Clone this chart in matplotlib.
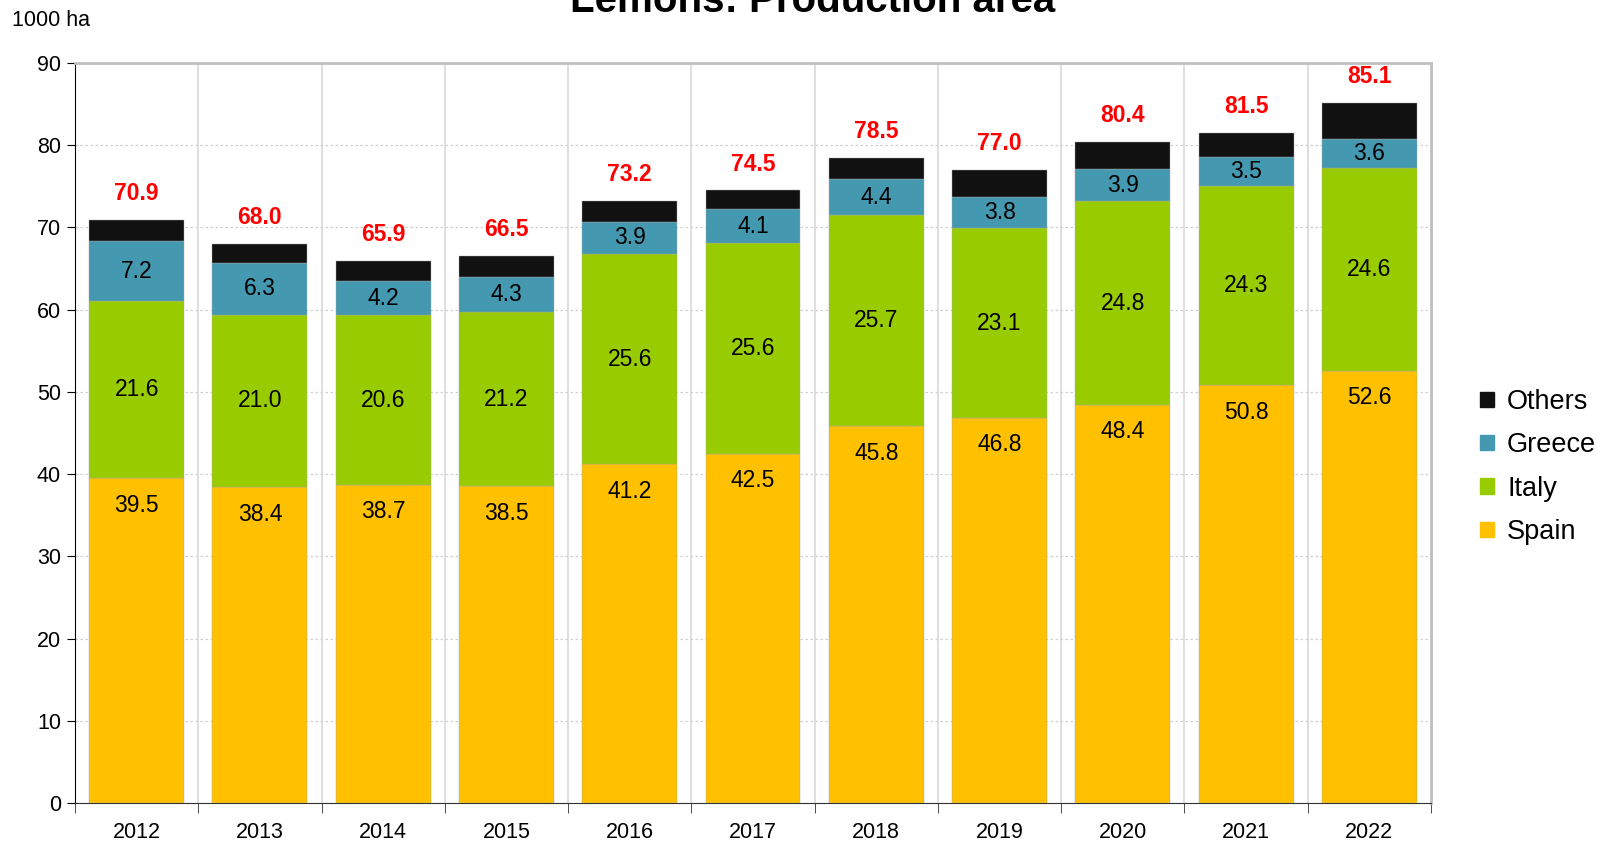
import numpy as np
import matplotlib.pyplot as plt
from matplotlib.patches import Patch

plt.rcParams['font.family'] = ['Liberation Sans', 'DejaVu Sans']

years = ['2012', '2013', '2014', '2015', '2016', '2017', '2018', '2019', '2020', '2021', '2022']
spain = [39.5, 38.4, 38.7, 38.5, 41.2, 42.5, 45.8, 46.8, 48.4, 50.8, 52.6]
italy = [21.6, 21.0, 20.6, 21.2, 25.6, 25.6, 25.7, 23.1, 24.8, 24.3, 24.6]
greece = [7.2, 6.3, 4.2, 4.3, 3.9, 4.1, 4.4, 3.8, 3.9, 3.5, 3.6]
others = [2.6, 2.3, 2.4, 2.5, 2.5, 2.3, 2.6, 3.3, 3.3, 2.9, 4.3]

colors = {'Spain': '#FFC000', 'Italy': '#99CC00', 'Greece': '#4498B0', 'Others': '#111111'}

fig = plt.figure(figsize=(15.97, 8.43), dpi=100)
ax = fig.add_axes([75 / 1597, 1 - 803 / 843, (1431 - 75) / 1597, (803 - 63) / 843])

x = np.arange(len(years))
w = 0.77
bottom = np.zeros(len(years))
series = [('Spain', spain), ('Italy', italy), ('Greece', greece), ('Others', others)]
for name, vals in series:
    vals = np.array(vals)
    ax.bar(x, vals, w, bottom=bottom, color=colors[name], edgecolor='#a8a8a8',
           linewidth=0.3, zorder=3)
    for xi, b, v in zip(x, bottom, vals):
        if name == 'Spain':
            ax.annotate(f'{v:.1f}', (xi, b + v), xytext=(0, -11), textcoords='offset points',
                        ha='center', va='top', fontsize=16.5, zorder=4)
        elif name in ('Italy', 'Greece'):
            ax.text(xi, b + v / 2, f'{v:.1f}', ha='center', va='center', fontsize=16.5, zorder=4)
    bottom = bottom + vals

# totals above each stack
for xi, t in zip(x, bottom):
    ax.annotate(f'{t:.1f}', (xi, t), xytext=(0, 19), textcoords='offset points',
                ha='center', va='center', fontsize=16.5, fontweight='bold', color='#FF0000')

ax.set_xlim(-0.5, len(years) - 0.5)
ax.set_ylim(0, 90)
ax.set_yticks(np.arange(0, 91, 10))
ax.set_xticks(x)
ax.set_xticklabels(years)
ax.set_xticks(np.arange(-0.5, len(years), 1), minor=True)
ax.tick_params(axis='x', which='major', length=0, pad=14, labelsize=15.5)
ax.tick_params(axis='x', which='minor', length=7, direction='out', color='#333333')
ax.tick_params(axis='y', length=6, direction='out', labelsize=15.5, pad=4)

ax.grid(axis='y', color='#d0d0d0', linestyle=(0, (2, 2)), linewidth=0.9, zorder=0)
for b in np.arange(0.5, len(years) - 1, 1):
    ax.axvline(b, color='#d9d9d9', linewidth=1.2, zorder=0)

ax.spines['left'].set_color('black')
ax.spines['bottom'].set_color('#333333')
ax.spines['top'].set_color('#c0c0c0')
ax.spines['right'].set_color('#c0c0c0')
ax.spines['top'].set_linewidth(2)
ax.spines['right'].set_linewidth(2)

fig.text(12 / 1597, 1 - 20 / 843, '1000 ha', fontsize=15.5, va='center', ha='left')
fig.text(813 / 1597, 1 - 12 / 843, 'Lemons: Production area', fontsize=29,
         fontweight='bold', ha='center', va='baseline')

handles = [Patch(color=colors[n]) for n in ['Others', 'Greece', 'Italy', 'Spain']]
fig.legend(handles, ['Others', 'Greece', 'Italy', 'Spain'], loc='upper left',
           bbox_to_anchor=(1480 / 1597, 1 - 389 / 843), frameon=False, fontsize=19.5,
           handlelength=0.5, handleheight=0.5, handletextpad=0.5, labelspacing=0.64,
           borderaxespad=0, borderpad=0)

fig.savefig('out.png', dpi=100)
